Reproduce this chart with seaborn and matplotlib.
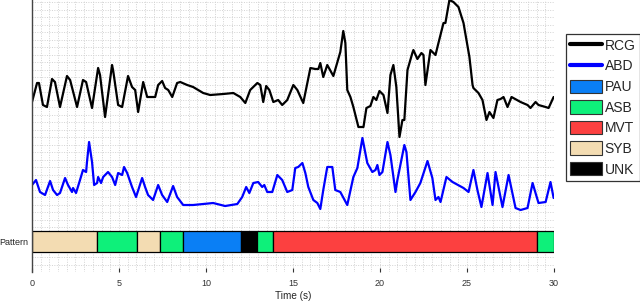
import numpy as np
import matplotlib
matplotlib.use("Agg")
import matplotlib.pyplot as plt
from matplotlib.lines import Line2D
from matplotlib.patches import Patch
from matplotlib.ticker import MultipleLocator
import seaborn as sns

# RCG trace (time in s, amplitude in arbitrary units)
rcg_t = [0.00, 0.29, 0.40, 0.63, 0.86, 1.15, 1.32, 1.61, 2.01, 2.19, 2.59, 2.93, 3.11, 3.45,
         3.80, 3.91, 4.20, 4.60, 4.66, 4.95, 5.18, 5.52, 5.75, 5.93, 6.10, 6.39, 6.62, 6.90,
         7.08, 7.25, 7.48, 7.65, 7.83, 8.06, 8.34, 8.52, 8.92, 9.26, 9.84, 10.24, 10.99, 11.57,
         11.97, 12.26, 12.54, 12.95, 13.12, 13.29, 13.46, 13.64, 13.87, 14.15, 14.38, 14.67,
         15.02, 15.25, 15.59, 16.00, 16.28, 16.46, 16.57, 16.74, 16.97, 17.32, 17.72, 17.89,
         18.01, 18.12, 18.30, 18.47, 18.76, 19.05, 19.22, 19.45, 19.62, 19.79, 19.97, 20.20,
         20.43, 20.60, 20.77, 20.94, 21.12, 21.29, 21.40, 21.58, 21.86, 21.92, 22.15, 22.38,
         22.50, 22.61, 22.90, 23.19, 23.36, 23.65, 23.76, 23.99, 24.22, 24.51, 24.80, 25.14,
         25.32, 25.37, 25.66, 25.89, 26.12, 26.29, 26.52, 26.75, 26.93, 27.10, 27.33, 27.56,
         28.08, 28.48, 28.65, 28.94, 29.11, 29.52, 29.69, 29.98]
rcg_v = [170, 189, 189, 167, 165, 193, 190, 165, 196, 192, 165, 192, 190, 164,
         204, 197, 155, 207, 202, 167, 165, 196, 185, 182, 160, 190, 175, 175,
         175, 187, 191, 184, 182, 175, 189, 190, 187, 185, 179, 177, 178, 179,
         175, 169, 182, 189, 187, 170, 186, 182, 170, 172, 167, 172,
         187, 182, 169, 204, 203, 203, 209, 195, 207, 196, 220, 241,
         229, 182, 175, 165, 145, 145, 164, 166, 175, 172, 181, 177,
         159, 197, 207, 185, 135, 152, 152, 202, 219, 222, 213, 219,
         217, 187, 222, 217, 229, 249, 249, 272, 270, 265, 249, 215,
         187, 184, 179, 172, 152, 160, 154, 172, 173, 175, 165, 175,
         170, 167, 164, 170, 167, 165, 164, 175]

# ABD trace
abd_t = [0.00, 0.23, 0.46, 0.75, 1.04, 1.21, 1.44, 1.61, 1.90, 2.07, 2.30, 2.36, 2.53, 2.76,
         2.93, 3.11, 3.16, 3.28, 3.45, 3.57, 3.74, 3.80, 3.97, 4.09, 4.37, 4.60, 4.78, 4.95,
         5.18, 5.29, 5.47, 5.75, 5.98, 6.33, 6.50, 6.67, 6.96, 7.25, 7.48, 7.77, 8.11, 8.34,
         8.69, 9.26, 10.41, 11.10, 11.80, 12.08, 12.31, 12.49, 12.72, 13.00, 13.23, 13.35,
         13.52, 13.81, 14.10, 14.38, 14.67, 14.96, 15.13, 15.30, 15.54, 15.71, 15.88, 16.17,
         16.40, 16.57, 16.74, 16.97, 17.26, 17.43, 17.72, 18.12, 18.47, 18.70, 18.99, 19.27,
         19.56, 19.74, 19.85, 19.97, 20.14, 20.43, 20.60, 20.89, 21.00, 21.40, 21.52, 21.75,
         22.04, 22.32, 22.73, 23.01, 23.19, 23.36, 23.48, 23.82, 24.17, 24.80, 25.09, 25.37,
         25.60, 25.83, 26.18, 26.47, 26.64, 27.04, 27.39, 27.79, 28.08, 28.48, 28.77, 29.11,
         29.52, 29.80, 29.98]
abd_v = [87, 92, 80, 77, 91, 82, 77, 79, 94, 87, 80, 84, 79, 92,
         102, 100, 110, 130, 110, 87, 89, 95, 89, 95, 100, 95, 87, 99,
         97, 105, 99, 85, 75, 94, 85, 77, 72, 87, 77, 70, 86, 75,
         67, 67, 69, 66, 68, 75, 85, 79, 89, 90, 85, 87,
         80, 80, 97, 92, 80, 82, 104, 105, 109, 99, 85, 72,
         69, 63, 82, 105, 105, 82, 80, 67, 95, 104, 134, 109,
         100, 102, 107, 97, 100, 130, 117, 80, 92, 127, 120, 72,
         80, 89, 111, 94, 72, 75, 70, 95, 90, 84, 80, 102,
         82, 65, 99, 67, 100, 65, 97, 64, 62, 64, 89, 69,
         70, 90, 74]

# sleep pattern segments
seg_start = [0.00, 3.72, 6.05, 7.38, 8.70, 12.00, 12.93, 13.83, 29.04]
seg_end = [3.72, 6.05, 7.38, 8.70, 12.00, 12.93, 13.83, 29.04, 30.00]
seg_label = ["SYB", "ASB", "SYB", "ASB", "PAU", "UNK", "ASB", "MVT", "ASB"]

pattern_colors = {"PAU": "#0a7ff5", "ASB": "#0ef07a", "MVT": "#fc4040",
                  "SYB": "#f3dcb2", "UNK": "#000000"}

sns.set_style("white")
plt.rcParams["font.family"] = ["Liberation Sans", "DejaVu Sans"]

fig = plt.figure(figsize=(6.4, 3.02), dpi=100)
ax = fig.add_axes([0.05, 0.0993, 0.8156, 0.9007])

sns.lineplot(x=rcg_t, y=rcg_v, ax=ax, color="black", lw=1.6, sort=False, estimator=None,
             solid_joinstyle="round")
sns.lineplot(x=abd_t, y=abd_v, ax=ax, color="#0000ff", lw=1.6, sort=False, estimator=None,
             solid_joinstyle="round")

widths = np.array(seg_end) - np.array(seg_start)
ax.barh(y=30.5, width=widths, left=seg_start, height=21,
        color=[pattern_colors[s] for s in seg_label], edgecolor="black", lw=0.9)

ax.set_xlim(0, 30)
ax.set_ylim(0, 272)
ax.xaxis.set_major_locator(MultipleLocator(5))
ax.xaxis.set_minor_locator(MultipleLocator(0.5))
ax.yaxis.set_minor_locator(MultipleLocator(7.5))
ax.set_yticks([30.5])
ax.set_yticklabels(["Pattern"], fontsize=6.5)
ax.grid(which="minor", color="#d2d2d2", ls=(0, (1, 1.5)), lw=0.7)
ax.grid(which="major", axis="x", color="#d2d2d2", ls=(0, (1, 1.5)), lw=0.7)
ax.set_axisbelow(True)
ax.tick_params(axis="x", which="major", direction="in", length=3, labelsize=6.5,
               colors="#333333", pad=5, bottom=True)
ax.tick_params(axis="x", which="minor", length=0)
ax.tick_params(axis="y", which="both", length=0, pad=3, labelsize=6.5)
ax.set_xlabel("Time (s)", fontsize=7.2, labelpad=2)
ax.set_ylabel("")

for side in ["top", "right", "bottom"]:
    ax.spines[side].set_visible(False)
ax.spines["left"].set_color("#444444")
ax.spines["left"].set_linewidth(1.0)

handles = [Line2D([], [], color="black", lw=3), Line2D([], [], color="#0000ff", lw=3)]
names = ["RCG", "ABD"]
for k in ["PAU", "ASB", "MVT", "SYB", "UNK"]:
    handles.append(Patch(facecolor=pattern_colors[k], edgecolor="#333333", lw=0.8))
    names.append(k)
leg = fig.legend(handles, names, loc="upper left", bbox_to_anchor=(0.884, 0.887),
                 fontsize=10, frameon=True, fancybox=False, framealpha=1,
                 edgecolor="#333333", handlelength=2.3, handleheight=1.1,
                 handletextpad=0.2, labelspacing=0.45, borderpad=0.3,
                 borderaxespad=0)
leg.get_frame().set_linewidth(0.9)

fig.savefig("out.png", dpi=100)
